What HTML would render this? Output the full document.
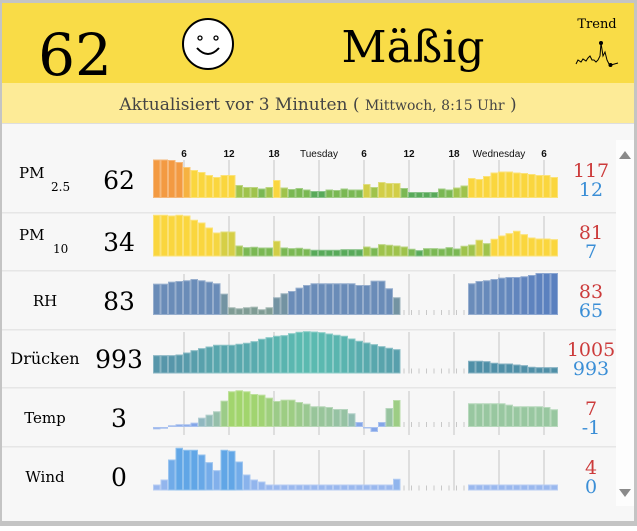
<!DOCTYPE html>
<html><head><meta charset="utf-8">
<style>
html,body{margin:0;padding:0;width:637px;height:526px;overflow:hidden;background:#fff;}
.wrap{position:absolute;left:0;top:0;width:637px;height:526px;}
</style></head>
<body>
<div class="wrap">
<svg id="s" width="637" height="526" xmlns="http://www.w3.org/2000/svg">
<rect x="0" y="0" width="637" height="526" fill="#f7f7f7"/>
<rect x="0" y="0" width="637" height="3" fill="#c4c4c4"/>
<rect x="0" y="0" width="2" height="526" fill="#c4c4c4"/>
<rect x="634" y="0" width="3" height="526" fill="#c4c4c4"/>
<rect x="0" y="521" width="637" height="5" fill="#c4c4c4"/>
<rect x="2" y="3" width="632" height="80" fill="#f9dc47"/>
<rect x="2" y="83" width="632" height="40" fill="#fdeb97"/>
<rect x="2" y="123" width="632" height="1" fill="#dedede"/>
<text x="75" y="75" font-family="DejaVu Serif,Liberation Serif,serif" font-size="58" text-anchor="middle" fill="#000">62</text>
<ellipse cx="208" cy="44" rx="25" ry="25" fill="#fff" stroke="#000" stroke-width="2"/>
<circle cx="200" cy="38" r="2" fill="none" stroke="#000" stroke-width="1.3"/>
<circle cx="216" cy="38" r="2" fill="none" stroke="#000" stroke-width="1.3"/>
<path d="M197 48 Q208 60 219 48" fill="none" stroke="#000" stroke-width="2"/>
<text x="413" y="62" font-family="DejaVu Serif,Liberation Serif,serif" font-size="44" text-anchor="middle" fill="#000">Mäßig</text>
<text x="597" y="28" font-family="DejaVu Serif,Liberation Serif,serif" font-size="13" text-anchor="middle" fill="#000">Trend</text>
<polyline points="576,64 578,60 581,62 583,59 586,61 588,58 590,56 592,60 594,60 596,62 598,60 600,56 601,43 603,56 605,52 607,60 609,64 611,65 618,63" fill="none" stroke="#000" stroke-width="1"/>
<circle cx="601" cy="43" r="2" fill="#000"/><circle cx="610.5" cy="65" r="2" fill="#000"/>
<text x="318" y="110" font-family="DejaVu Serif,Liberation Serif,serif" font-size="17" text-anchor="middle" fill="#444">Aktualisiert vor 3 Minuten ( <tspan font-size="14">Mittwoch, 8:15 Uhr</tspan> )</text>
<rect x="616" y="140" width="18" height="366" fill="#fdfdfd"/>
<polygon points="619,159 631,159 625,151" fill="#8a8a8a"/>
<polygon points="619,489 631,489 625,497" fill="#8a8a8a"/>
<g id="g"></g>
</svg>
</div>
<script>
var g=document.getElementById('g');
function el(t,a,txt){var e=document.createElementNS('http://www.w3.org/2000/svg',t);for(var k in a)e.setAttribute(k,a[k]);if(txt!==undefined)e.textContent=txt;g.appendChild(e);return e;}
var X0=153,W=7.5;
var grid=[184,229,274,319,364,409,454,499,544];
var seps=[212,270,329,387,446];
seps.forEach(function(y){el('rect',{x:2,y:y,width:614,height:1.5,fill:'#e6e6e6'});});
var labs=['6','12','18','Tuesday','6','12','18','Wednesday','6'];
grid.forEach(function(x,i){el('text',{x:x,y:157,'font-family':'Liberation Sans,sans-serif','font-size':10,'font-weight':(i==3||i==7)?'normal':'bold','text-anchor':'middle',fill:'#111'},labs[i]);});
function lerp(a,b,t){return Math.round(a+(b-a)*t);}
function mix(c1,c2,t){var a=[parseInt(c1.substr(1,2),16),parseInt(c1.substr(3,2),16),parseInt(c1.substr(5,2),16)],b=[parseInt(c2.substr(1,2),16),parseInt(c2.substr(3,2),16),parseInt(c2.substr(5,2),16)];return 'rgb('+lerp(a[0],b[0],t)+','+lerp(a[1],b[1],t)+','+lerp(a[2],b[2],t)+')';}
function pmCol(h){if(h>=34)return '#f39a42';if(h>=29)return '#f6b241';if(h>=18)return '#fad63e';if(h>=14)return '#d2ce47';if(h>=10.5)return '#9fc34c';if(h>=8)return '#7ab853';return '#58aa5a';}
var pm25=[38.5,38.5,38,36,31,28,26,23,21,23,23,13,11,11,9.5,11,18,10.5,9,10,8.5,7,7,8.5,8,9.5,8.5,8.5,14,11,16,15,15,10,6,6,6,6,9.5,8.5,10.5,12.5,20,19,22,25.5,26.5,26.5,25.5,25,24,23,23,21];
var pm10=[41.7,41.7,41,41.7,41,36.7,34,29,24,25,25,11,9.3,9.7,9,9,15.7,9,8.3,8.7,7.7,6.7,6.7,6.7,6.7,7.3,7.3,7.3,10,8.7,12.3,11.7,11,10,7.7,6.3,8.3,8.3,8,9.3,8,10.7,12,16.7,13.3,17.7,21,23.3,25.7,22.3,19,18,18,17.3];
var pm10c=function(h,i){if(i>=9&&i<=10)return '#d6cf46';if(i==8)return '#f5d642';if(h>=24)return '#fad63e';return pmCol(h*1.05);};
var rh=[31.3,31.3,33.3,34,34.7,36,34.7,33.3,31.7,21.3,7.7,6.7,7.7,8.3,5.7,7.7,17.7,21.7,24,27.3,30,31.7,31.7,31.7,31.7,31.7,31.7,30,30,34.3,34.3,26.7,17.7,null,null,null,null,null,null,null,null,null,31.7,34,34.7,36,37.3,38,38,38.7,40,42,42,42];
var pr=[18.3,18.3,18.3,19,21,23.3,25.3,27,28.7,28.7,28.7,29.7,30.7,32.3,34.7,36.3,37.7,38.3,40.3,41.7,42.3,42,41.3,40,38.7,37.7,35,32.7,31,29.3,27.3,25.7,24.3,null,null,null,null,null,null,null,null,null,12.7,12.7,12.3,10.7,10,10,9,8.3,6.7,6.3,6.3,6.3];
var tp=[-2.3,-1.7,1.7,2.7,2.7,4.3,9.3,12.3,15.7,26.3,35.7,36.7,35.7,33,32.3,29.3,26,27.3,27.3,25,23.3,20.7,20.7,20,18,18,13.7,5,-1,-5,5,19,27,null,null,null,null,null,null,null,null,null,23.7,23.7,23.7,23.7,23.7,22.3,20.7,20.7,20.7,20.7,20,17.7];
var wd=[6,11,31,42.7,40.7,40.7,36,28.3,20.3,40.7,39.7,29,16,11,9,6,6,6,6,6,6,6,6,6,6,6,6,6,6,6,6,6,11.7,null,null,null,null,null,null,null,null,null,6,6,6,6,6,6,6,6,6,6,6,6];
var rows=[
 {b:198,top:160,d:pm25,c:function(h){return pmCol(h);}},
 {b:256.5,top:216,d:pm10,c:pm10c},
 {b:315,top:274,d:rh,c:function(h,i){if(i>=42)return mix('#6a8cba','#5a80bf',(i-42)/11);if(h<10)return '#7f9c94';if(h<22)return '#7393a2';return '#6a8cb8';}},
 {b:373.5,top:332,d:pr,c:function(h,i){if(i>=42)return '#4f8fa7';return mix('#5796aa','#5bbab0',Math.max(0,(h-18)/24));}},
 {b:427,top:391,d:tp,c:function(h,i){if(i>=42)return '#98c7a0';if(h<=5)return '#84a6e8';return mix('#8fb6c4','#a2d56d',Math.min(1,(h-8)/26));}},
 {b:490.5,top:450,d:wd,c:function(h){return mix('#9ab8ee','#61a6e6',Math.min(1,(h-6)/34));}}
];
rows.forEach(function(r,ri){
 grid.forEach(function(x){el('rect',{x:x-0.5,y:r.top,width:1,height:r.b-r.top+(ri==4?8:0),fill:'#c6c6c6'});});
 r.d.forEach(function(h,i){
  var x=X0+i*W;
  if(h===null){el('rect',{x:x+3,y:r.b-5,width:1,height:5,fill:'#c8c8c8'});return;}
  var y=h>=0?r.b-h:r.b, hh=Math.max(Math.abs(h),1.5);
  el('rect',{x:x,y:y,width:W,height:hh,fill:r.c(h,i)});
  el('rect',{x:x+0.5,y:y+0.5,width:W-1,height:Math.max(hh-1,0.5),fill:'none',stroke:'rgba(255,255,255,0.3)','stroke-width':1});
 });
});
var names=[['PM','2.5'],['PM','10'],['RH'],['Drücken'],['Temp'],['Wind']];
var vals=['62','34','83','993','3','0'];
var hi=['117','81','83','1005','7','4'],lo=['12','7','65','993','-1','0'];
var cy=[179,241,300,358,417,476];
names.forEach(function(n,i){
 var f='DejaVu Serif,Liberation Serif,serif';
 if(n.length==2){el('text',{x:19,y:cy[i]-1,'font-family':f,'font-size':15,fill:'#000'},n[0]);el('text',{x:51+(i==1?2:0),y:cy[i]+12,'font-family':f,'font-size':12,fill:'#000'},n[1]);}
 else el('text',{x:45,y:cy[i]+6,'font-family':f,'font-size':i==3?16:15,'text-anchor':'middle',fill:'#000'},n[0]);
 el('text',{x:119,y:cy[i]+10,'font-family':f,'font-size':25,'text-anchor':'middle',fill:'#000'},vals[i]);
 el('text',{x:591,y:cy[i]-2,'font-family':f,'font-size':19,'text-anchor':'middle',fill:'#cc3b3b'},hi[i]);
 el('text',{x:591,y:cy[i]+17,'font-family':f,'font-size':19,'text-anchor':'middle',fill:'#3a8ed6'},lo[i]);
});
</script>
</body></html>
